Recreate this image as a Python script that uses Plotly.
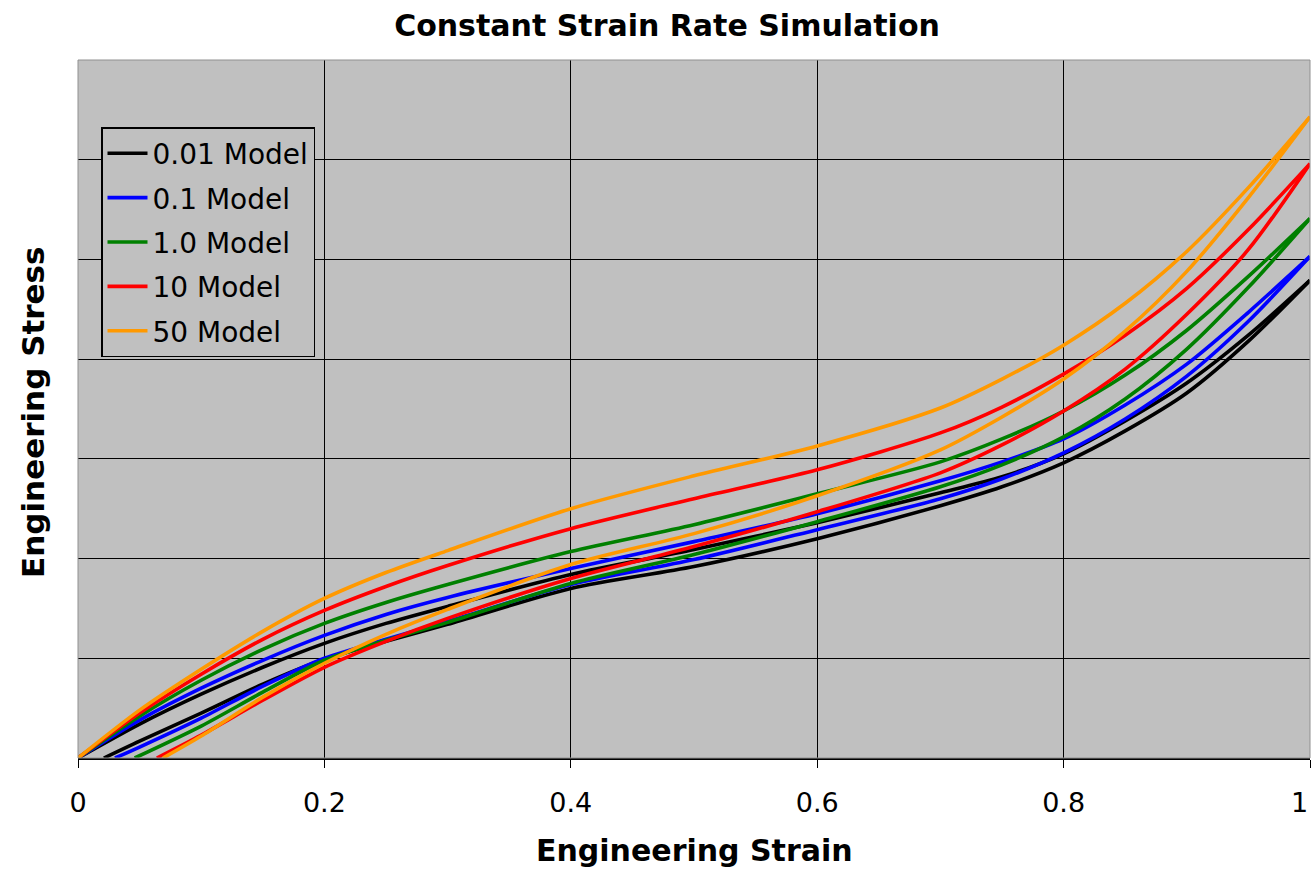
import plotly.graph_objects as go

# ---------------- data ----------------
model_names = ["0.01 Model", "0.1 Model", "1.0 Model", "10 Model", "50 Model"]
model_colors = ["#000000", "#0000FF", "#008000", "#FF0000", "#FF9900"]

# loading branch (starts at the origin)
load_strain = [0, 0.05, 0.1, 0.15, 0.2, 0.25, 0.3, 0.4, 0.5, 0.6, 0.7, 0.75, 0.8, 0.85, 0.9, 0.95, 1.0]
load_0_01 = [0, 0.34, 0.64, 0.91, 1.15, 1.35, 1.52, 1.84, 2.09, 2.36, 2.66, 2.82, 3.05, 3.38, 3.76, 4.24, 4.79]
load_0_1 = [0, 0.38, 0.70, 0.98, 1.23, 1.44, 1.61, 1.90, 2.17, 2.45, 2.78, 2.97, 3.20, 3.54, 3.95, 4.47, 5.03]
load_1_0 = [0, 0.42, 0.78, 1.09, 1.35, 1.56, 1.74, 2.07, 2.34, 2.65, 2.97, 3.20, 3.48, 3.84, 4.29, 4.83, 5.41]
load_10 = [0, 0.45, 0.84, 1.19, 1.48, 1.72, 1.93, 2.30, 2.60, 2.89, 3.26, 3.52, 3.85, 4.24, 4.71, 5.30, 5.96]
load_50 = [0, 0.48, 0.89, 1.27, 1.60, 1.86, 2.08, 2.50, 2.83, 3.13, 3.51, 3.80, 4.14, 4.56, 5.08, 5.72, 6.43]

# unloading branch (ends at a residual strain)
unload_strain_0_01 = [0.021, 0.05, 0.1, 0.15, 0.2, 0.25, 0.3, 0.4, 0.5, 0.6, 0.7, 0.75, 0.8, 0.85, 0.9, 0.95, 1.0]
unload_0_01 = [0, 0.17, 0.45, 0.74, 0.99, 1.17, 1.34, 1.70, 1.92, 2.20, 2.53, 2.72, 2.96, 3.28, 3.66, 4.18, 4.79]
unload_strain_0_1 = [0.030, 0.05, 0.1, 0.15, 0.2, 0.25, 0.3, 0.4, 0.5, 0.6, 0.7, 0.75, 0.8, 0.85, 0.9, 0.95, 1.0]
unload_0_1 = [0, 0.11, 0.40, 0.72, 1.00, 1.19, 1.37, 1.74, 1.99, 2.29, 2.60, 2.80, 3.06, 3.40, 3.83, 4.38, 5.03]
unload_strain_1_0 = [0.046, 0.1, 0.15, 0.2, 0.25, 0.3, 0.4, 0.5, 0.6, 0.7, 0.75, 0.8, 0.85, 0.9, 0.95, 1.0]
unload_1_0 = [0, 0.32, 0.66, 0.98, 1.18, 1.36, 1.75, 2.04, 2.37, 2.72, 2.94, 3.22, 3.60, 4.10, 4.72, 5.41]
unload_strain_10 = [0.064, 0.1, 0.15, 0.2, 0.25, 0.3, 0.4, 0.5, 0.6, 0.7, 0.75, 0.8, 0.85, 0.9, 0.95, 1.0]
unload_10 = [0, 0.23, 0.58, 0.91, 1.17, 1.40, 1.80, 2.12, 2.47, 2.86, 3.14, 3.48, 3.90, 4.45, 5.10, 5.96]
unload_strain_50 = [0.069, 0.1, 0.15, 0.2, 0.25, 0.3, 0.4, 0.5, 0.6, 0.7, 0.75, 0.8, 0.85, 0.9, 0.95, 1.0]
unload_50 = [0, 0.22, 0.61, 0.95, 1.24, 1.49, 1.94, 2.25, 2.63, 3.09, 3.42, 3.80, 4.28, 4.88, 5.62, 6.43]

x_tick_vals = [0, 0.2, 0.4, 0.6, 0.8, 1.0]
x_tick_text = ["0", "0.2", "0.4", "0.6", "0.8", "1"]
y_grid_vals = [1, 2, 3, 4, 5, 6]

loads = [load_0_01, load_0_1, load_1_0, load_10, load_50]
unload_strains = [unload_strain_0_01, unload_strain_0_1, unload_strain_1_0, unload_strain_10, unload_strain_50]
unloads = [unload_0_01, unload_0_1, unload_1_0, unload_10, unload_50]

FONT = "DejaVu Sans"
PLOT_L, PLOT_R, PLOT_T, PLOT_B = 78, 1310, 60, 758
PW, PH = PLOT_R - PLOT_L, PLOT_B - PLOT_T
TICK_LABEL_Y = 802  # centre of the tick labels, in pixels

fig = go.Figure()
for i, name in enumerate(model_names):
    line = dict(color=model_colors[i], width=3.6, shape="spline", smoothing=0.8)
    fig.add_trace(go.Scatter(
        x=load_strain, y=loads[i], mode="lines", name=name, legendgroup=name,
        line=line,
    ))
    fig.add_trace(go.Scatter(
        x=unload_strains[i], y=unloads[i], mode="lines", name=name, legendgroup=name,
        showlegend=False, line=line,
    ))

# the last tick label sits at the very right edge: right-align it so it stays inside the page
axis_tick_text = x_tick_text[:-1] + [""]

fig.update_layout(
    width=1311, height=869,
    margin=dict(l=PLOT_L, r=1311 - PLOT_R, t=PLOT_T, b=869 - PLOT_B),
    paper_bgcolor="white",
    plot_bgcolor="#C0C0C0",
    font=dict(family=FONT, color="black"),
    title=dict(text="<b>Constant Strain Rate Simulation</b>",
               font=dict(family=FONT, size=30, color="black"),
               x=667 / 1311, xanchor="center", xref="container",
               y=1 - 25 / 869, yanchor="middle", yref="container"),
    showlegend=True,
    legend=dict(
        x=23 / PW, y=(PLOT_B - 127) / PH, xanchor="left", yanchor="top",
        bgcolor="#C0C0C0", bordercolor="black", borderwidth=1.5,
        font=dict(family=FONT, size=28, color="black"),
        tracegroupgap=5, traceorder="grouped", itemwidth=40,
    ),
    xaxis=dict(
        range=[0, 1], tickvals=x_tick_vals, ticktext=axis_tick_text,
        showgrid=True, gridcolor="black", gridwidth=1.3,
        zeroline=False, showline=True, linecolor="black", linewidth=1.5,
        ticks="outside", ticklen=8, tickcolor="black", tickwidth=1.3,
        tickfont=dict(family=FONT, size=27, color="black"),
        ticklabelstandoff=12, automargin=False,
    ),
    yaxis=dict(
        range=[0, 7], tickvals=y_grid_vals, showticklabels=False,
        showgrid=True, gridcolor="black", gridwidth=1.3,
        zeroline=False, showline=False, ticks="", automargin=False,
    ),
    annotations=[
        dict(text=x_tick_text[-1], xref="x", yref="paper",
             x=x_tick_vals[-1], y=-(TICK_LABEL_Y - PLOT_B) / PH,
             xanchor="right", yanchor="middle", xshift=0, showarrow=False,
             font=dict(family=FONT, size=27, color="black")),
        dict(text="<b>Engineering Strain</b>", xref="paper", yref="paper",
             x=(694 - PLOT_L) / PW, y=-(850 - PLOT_B) / PH, xanchor="center", yanchor="middle",
             showarrow=False, font=dict(family=FONT, size=30, color="black")),
        dict(text="<b>Engineering Stress</b>", xref="paper", yref="paper",
             x=-(PLOT_L - 33) / PW, y=(PLOT_B - 412) / PH, xanchor="center", yanchor="middle",
             textangle=-90, showarrow=False,
             font=dict(family=FONT, size=31, color="black")),
    ],
    shapes=[dict(type="rect", xref="x domain", yref="y domain", x0=0, x1=1, y0=0, y1=1,
                 line=dict(color="#909090", width=1), layer="above")],
)

fig.write_html("out.html")
